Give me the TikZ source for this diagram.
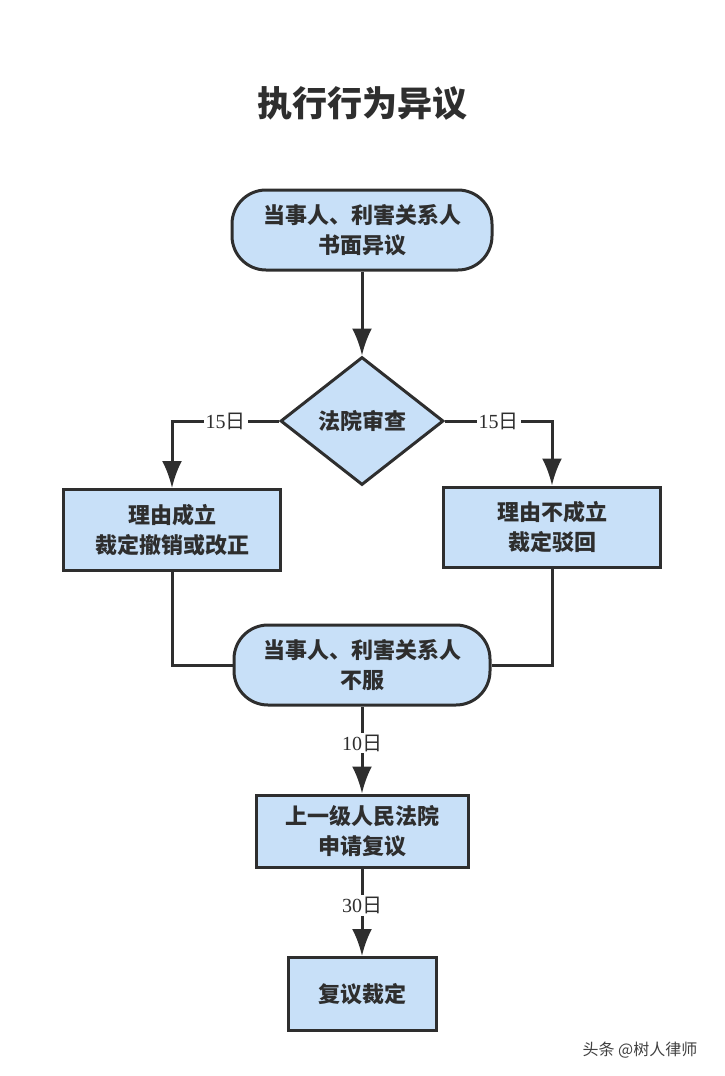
\documentclass[tikz,border=0pt]{standalone}
\usepackage{fontspec}
\usepackage{xcolor}
\usepackage{tikz}
\usetikzlibrary{arrows.meta,shapes.geometric}
\setmainfont{Liberation Serif}
\newfontfamily\cjk{Noto Sans CJK SC}
\definecolor{boxblue}{HTML}{C8E0F8}
\definecolor{ink}{HTML}{2E2E2E}

\begin{document}
\begin{tikzpicture}[
  x=1pt, y=-1pt,
  >={Latex[length=27pt,width=20pt]},
  box/.style={draw=ink, line width=3pt, fill=boxblue, align=center,
    inner sep=0pt, text=ink, font=\fontsize{22}{30}\selectfont\cjk\bfseries},
  pill/.style={box, rounded corners=34pt},
  diam/.style={box, diamond, minimum width=163pt, minimum height=128pt},
  arr/.style={->, line width=3pt, draw=ink},
  lnk/.style={line width=3pt, draw=ink},
  lbl/.style={fill=white, inner sep=2pt, text=ink, font=\fontsize{20}{22}\selectfont}
]
\useasboundingbox (0,0) rectangle (724,1076);
\node[font=\fontsize{35}{40}\selectfont\cjk\bfseries, text=ink] (title) at (362,103)
  {执行行为异议};
\node[pill, minimum width=260pt, minimum height=80pt] (claim) at (362,230)
  {当事人、利害关系人\\书面异议};
\node[diam] (review) at (362,421) {法院审查};
\node[box, minimum width=217pt, minimum height=81pt] (grant) at (172,530)
  {理由成立\\裁定撤销或改正};
\node[box, minimum width=217pt, minimum height=80pt] (reject) at (552,527)
  {理由不成立\\裁定驳回};
\node[pill, minimum width=256pt, minimum height=80pt] (refuse) at (362,665)
  {当事人、利害关系人\\不服};
\node[box, minimum width=212pt, minimum height=72pt] (appeal) at (362,831)
  {上一级人民法院\\申请复议};
\node[box, minimum width=148pt, minimum height=73pt] (ruling) at (362,994)
  {复议裁定};
\draw[arr] (claim.south) -- (review.north);
\draw[arr] (review.west) -| node[lbl, pos=0.25] {15{\cjk 日}} (grant.north);
\draw[arr] (review.east) -| node[lbl, pos=0.25] {15{\cjk 日}} (reject.north);
\draw[lnk] (grant.south) |- (refuse.west);
\draw[lnk] (reject.south) |- (refuse.east);
\draw[arr] (refuse.south) -- node[lbl, pos=0.42] {10{\cjk 日}} (appeal.north);
\draw[arr] (appeal.south) -- node[lbl, pos=0.42] {30{\cjk 日}} (ruling.north);
\node[font=\fontsize{16}{18}\selectfont\cjk, text=black!75] (mark) at (640,1050)
  {头条 @树人律师};
\end{tikzpicture}
\end{document}
